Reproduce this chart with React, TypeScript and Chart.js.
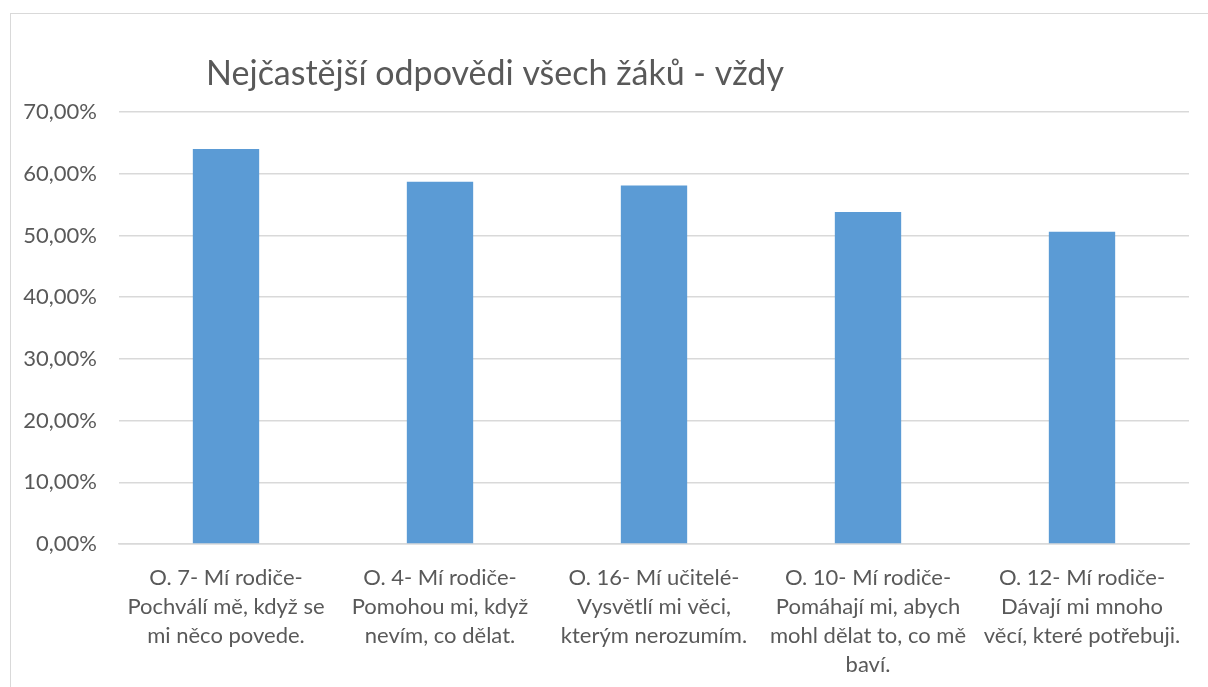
import React, { useEffect, useRef } from "react";
import { Chart, registerables } from "chart.js";

Chart.register(...registerables);

const TITLE = "Nejčastější odpovědi všech žáků - vždy";
const categories: string[][] = [
  ["O. 7- Mí rodiče-", "Pochválí mě, když se", "mi něco povede."],
  ["O. 4- Mí rodiče-", "Pomohou mi, když", "nevím, co dělat."],
  ["O. 16- Mí učitelé-", "Vysvětlí mi věci,", "kterým nerozumím."],
  ["O. 10- Mí rodiče-", "Pomáhají mi, abych", "mohl dělat to, co mě", "baví."],
  ["O. 12- Mí rodiče-", "Dávají mi mnoho", "věcí, které potřebuji."],
];
const values: number[] = [64.0, 58.7, 58.1, 53.8, 50.6];
const yMin = 0;
const yMax = 70;
const yStep = 10;

const TEXT = "#595959";
const GRID = "#d9d9d9";
const BAR = "#5b9bd5";
const FONT = "Lato, 'Open Sans', sans-serif";

const titlePlugin = {
  id: "customTitle",
  afterDraw(chart: any) {
    const ctx = chart.ctx;
    ctx.save();
    ctx.font = `34px ${FONT}`;
    ctx.fillStyle = TEXT;
    ctx.textAlign = "center";
    ctx.textBaseline = "middle";
    ctx.fillText(TITLE, 495, 74);
    ctx.restore();
  },
};

export default function App() {
  const ref = useRef<HTMLCanvasElement | null>(null);
  useEffect(() => {
    if (!ref.current) return;
    const chart = new Chart(ref.current, {
      type: "bar",
      data: {
        labels: categories,
        datasets: [
          {
            data: values,
            backgroundColor: BAR,
            borderWidth: 0,
            barPercentage: 0.31,
            categoryPercentage: 1,
          },
        ],
      },
      plugins: [titlePlugin],
      options: {
        responsive: false,
        animation: false,
        layout: { padding: { top: 112, right: 19, left: 0, bottom: 0 } },
        plugins: {
          legend: { display: false },
          title: { display: false },
          tooltip: { enabled: false },
        },
        scales: {
          x: {
            grid: { display: false, drawTicks: false },
            border: { display: true, color: GRID, width: 1.5 },
            ticks: {
              color: TEXT,
              font: { family: FONT, size: 22, lineHeight: 1.32 },
              padding: 19,
              maxRotation: 0,
              autoSkip: false,
            },
            afterFit: (scale: any) => {
              scale.height = 143;
            },
          },
          y: {
            min: yMin,
            max: yMax,
            grid: { color: GRID, lineWidth: 1.5, drawTicks: false },
            border: { display: false },
            ticks: {
              stepSize: yStep,
              color: TEXT,
              font: { family: FONT, size: 22 },
              padding: 22,
              callback: (v: any) => Number(v).toFixed(2).replace(".", ",") + "%",
            },
            afterFit: (scale: any) => {
              scale.width = 119;
            },
          },
        },
      },
    });
    return () => chart.destroy();
  }, []);

  return (
    <div
      style={{
        position: "fixed",
        left: 0,
        top: 0,
        width: 1208,
        height: 687,
        overflow: "hidden",
        background: "#fff",
      }}
    >
      <div
        style={{
          position: "absolute",
          left: 10,
          top: 13,
          width: 1400,
          height: 900,
          border: `1px solid ${GRID}`,
        }}
      />
      <canvas
        ref={ref}
        width={1208}
        height={687}
        style={{ position: "absolute", left: 0, top: 0 }}
      />
    </div>
  );
}
